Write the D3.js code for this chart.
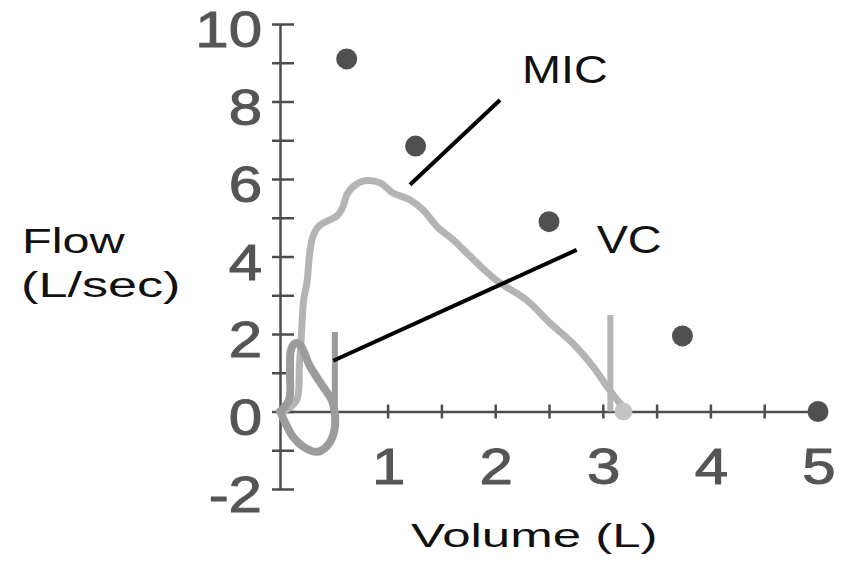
<!DOCTYPE html>
<html>
<head>
<meta charset="utf-8">
<script src="https://cdn.jsdelivr.net/npm/d3@7"></script>
<style>
  body { margin: 0; background: #fff; }
  svg text { font-family: "Liberation Sans", Arial, sans-serif; }
</style>
</head>
<body>
<div id="chart"></div>
<script>
// values
const micVolume = [0, 0.04, 0.155, 0.18, 0.2, 0.22, 0.25, 0.28, 0.31, 0.36, 0.45, 0.53, 0.58, 0.63, 0.73, 0.81, 0.93, 1.05, 1.21, 1.33, 1.46, 1.61, 1.74, 2.01, 2.29, 2.51, 2.72, 2.91, 3.04, 3.16, 3.21];
const micFlow   = [0, 0.02, 0.3, 1.16, 2.03, 2.88, 3.32, 4.17, 4.55, 4.78, 4.93, 5.05, 5.25, 5.64, 5.9, 5.96, 5.9, 5.64, 5.46, 5.2, 4.77, 4.43, 4.08, 3.39, 2.88, 2.28, 1.76, 1.16, 0.64, 0.21, 0.06];

const vcVolume = [0, 0.084, 0.093, 0.102, 0.14, 0.186, 0.28, 0.4, 0.48, 0.51, 0.5, 0.43, 0.34, 0.22, 0.12, 0.05, 0.016, 0];
const vcFlow   = [0, 0.3, 1.07, 1.59, 1.76, 1.72, 1.16, 0.64, 0.3, -0.05, -0.56, -0.91, -1.04, -0.91, -0.65, -0.3, -0.09, 0];

// vertical end-of-manoeuvre bars (VC, MIC)
const endBarVolume = [0.51, 3.07];
const endBarFlow = [2.05, 2.49];

const markerVolume = [0.62, 1.26, 2.5, 3.74, 5];
const markerFlow = [9.1, 6.85, 4.9, 1.95, 0];

const yTickValues = [-2, -1, 0, 1, 2, 3, 4, 5, 6, 7, 8, 9, 10];
const yLabelValues = [-2, 0, 2, 4, 6, 8, 10];
const xTickValues = [0.5, 1, 1.5, 2, 2.5, 3, 3.5, 4, 4.5];
const xLabelValues = [1, 2, 3, 4, 5];

const calloutText = ['MIC', 'VC'];
const calloutFrom = [[2.045, 8.04], [2.757, 4.17]];
const calloutTo = [[1.208, 5.85], [0.495, 1.31]];

const width = 844,
    height = 564,
    axisColor = '#4d4d4d',
    tickColor = '#555',
    micColor = '#b4b4b4',
    vcColor = '#9c9c9c';

const x = d3.scaleLinear().domain([0, 5]).range([280, 818]);
const y = d3.scaleLinear().domain([-2, 10]).range([489, 24]);

const svg = d3.select('#chart').append('svg')
    .attr('width', width)
    .attr('height', height);

// axes with ticks crossing the line
const gy = svg.append('g')
    .attr('transform', `translate(${x(0)},0)`)
    .attr('color', axisColor)
    .call(d3.axisLeft(y).tickValues(yTickValues).tickSize(0).tickFormat(''));
gy.select('.domain').attr('stroke-width', 2.5);
gy.selectAll('.tick line').attr('x1', -8).attr('x2', 14).attr('stroke-width', 2.5);

const gx = svg.append('g')
    .attr('transform', `translate(0,${y(0)})`)
    .attr('color', axisColor)
    .call(d3.axisBottom(x).tickValues(xTickValues).tickSize(0).tickFormat(''));
gx.select('.domain').attr('stroke-width', 2.5);
gx.selectAll('.tick line').attr('y1', -7).attr('y2', 7).attr('stroke-width', 2.5);

svg.append('g').selectAll('text')
    .data(yLabelValues)
    .join('text')
    .attr('transform', d => `translate(${x(0) - 18},${y(d) + 23}) scale(1.2,1)`)
    .attr('text-anchor', 'end')
    .attr('font-size', 50)
    .attr('fill', tickColor)
    .attr('stroke', tickColor)
    .attr('stroke-width', 1)
    .text(d => d);

svg.append('g').selectAll('text')
    .data(xLabelValues)
    .join('text')
    .attr('transform', d => `translate(${x(d) + 1},484) scale(1.2,1)`)
    .attr('text-anchor', 'middle')
    .attr('font-size', 50)
    .attr('fill', tickColor)
    .attr('stroke', tickColor)
    .attr('stroke-width', 1)
    .text(d => d);

// axis titles
svg.append('text')
    .attr('transform', 'translate(22,253) scale(1.35,1)')
    .attr('font-size', 36)
    .attr('fill', '#111')
    .text('Flow');
svg.append('text')
    .attr('transform', 'translate(21,297) scale(1.45,1)')
    .attr('font-size', 36)
    .attr('fill', '#111')
    .text('(L/sec)');
svg.append('text')
    .attr('transform', 'translate(411,547) scale(1.5,1)')
    .attr('font-size', 34)
    .attr('fill', '#111')
    .text('Volume (L)');

const line = d3.line()
    .x(d => x(d[0]))
    .y(d => y(d[1]))
    .curve(d3.curveCatmullRom);

svg.append('path')
    .attr('d', line(d3.zip(micVolume, micFlow)))
    .attr('fill', 'none')
    .attr('stroke', micColor)
    .attr('stroke-width', 7)
    .attr('stroke-linecap', 'round')
    .attr('stroke-linejoin', 'round');

svg.append('path')
    .attr('d', line(d3.zip(vcVolume, vcFlow)))
    .attr('fill', 'none')
    .attr('stroke', vcColor)
    .attr('stroke-width', 8)
    .attr('stroke-linecap', 'round')
    .attr('stroke-linejoin', 'round');

svg.append('g').selectAll('line')
    .data(d3.zip(endBarVolume, endBarFlow))
    .join('line')
    .attr('x1', d => x(d[0]))
    .attr('x2', d => x(d[0]))
    .attr('y1', d => y(d[1]))
    .attr('y2', y(0))
    .attr('stroke', (d, i) => i === 0 ? vcColor : micColor)
    .attr('stroke-width', 6);

// blob where the MIC trace lands on the axis
svg.append('circle')
    .attr('cx', x(micVolume[micVolume.length - 1]) - 2)
    .attr('cy', y(0))
    .attr('r', 9)
    .attr('fill', '#c4c4c4');

svg.append('g').selectAll('circle')
    .data(d3.zip(markerVolume, markerFlow))
    .join('circle')
    .attr('cx', d => x(d[0]))
    .attr('cy', d => y(d[1]))
    .attr('r', 10.5)
    .attr('fill', '#505050');

// callouts
svg.append('g').selectAll('line')
    .data(calloutText)
    .join('line')
    .attr('x1', (d, i) => x(calloutFrom[i][0]))
    .attr('y1', (d, i) => y(calloutFrom[i][1]))
    .attr('x2', (d, i) => x(calloutTo[i][0]))
    .attr('y2', (d, i) => y(calloutTo[i][1]))
    .attr('stroke', '#000')
    .attr('stroke-width', 4);

svg.append('g').selectAll('text')
    .data(calloutText)
    .join('text')
    .attr('transform', (d, i) => `translate(${x(calloutFrom[i][0]) + (i === 0 ? 22 : 20)},${y(calloutFrom[i][1]) + (i === 0 ? -17 : 3)}) scale(1.2,1)`)
    .attr('font-size', 39)
    .attr('fill', '#111')
    .text(d => d);
</script>
</body>
</html>
